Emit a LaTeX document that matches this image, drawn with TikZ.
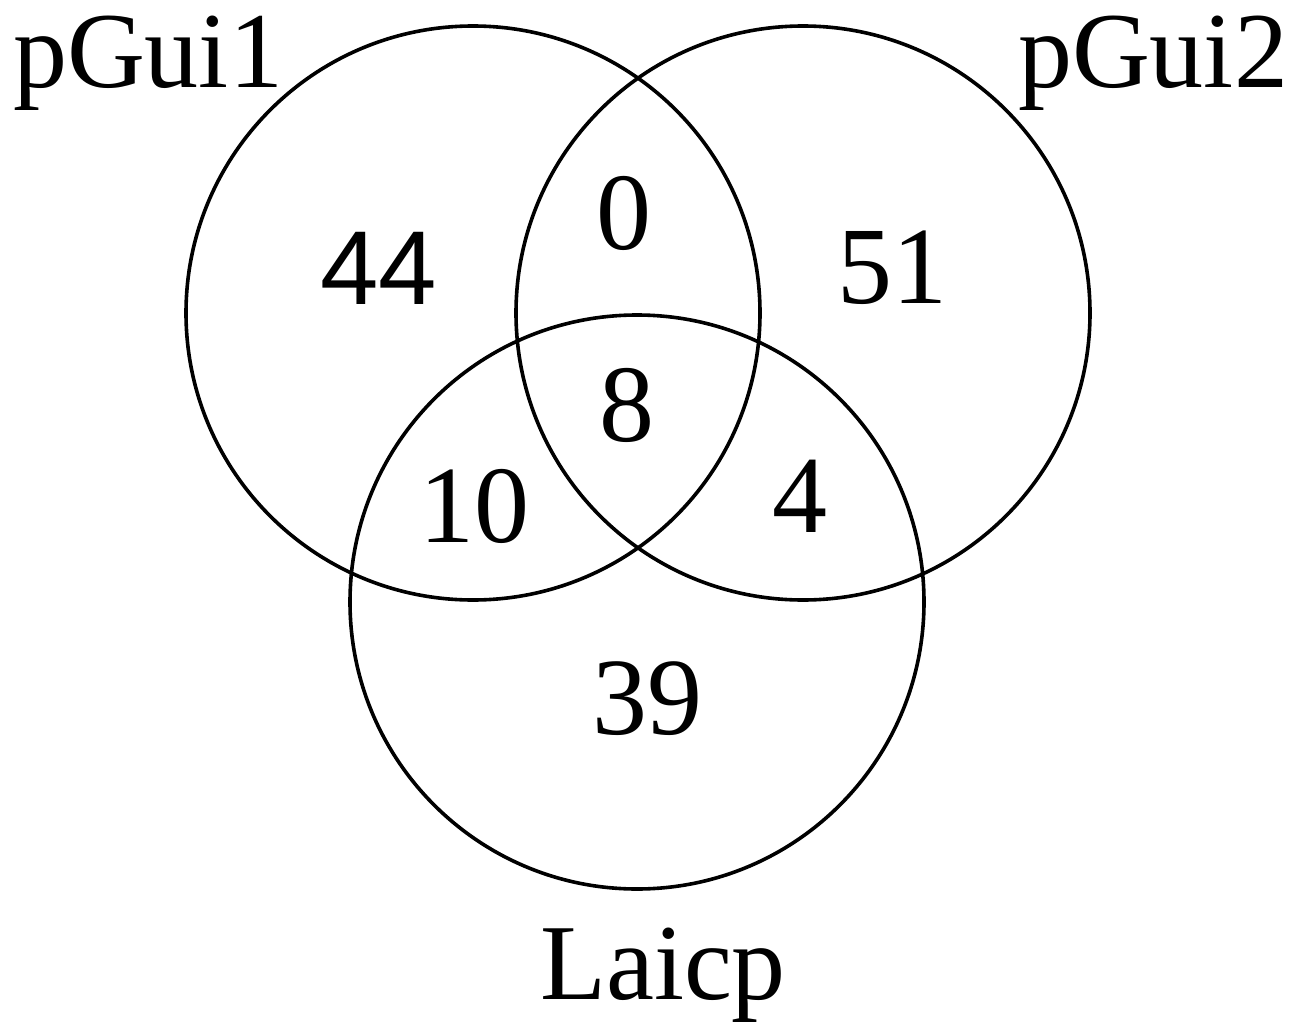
\documentclass[tikz,border=0pt]{standalone}
\usepackage{fontspec}
\setmainfont{Liberation Serif}
\newfontfamily\numsans{Liberation Sans}
\begin{document}
\begin{tikzpicture}[x=1pt,y=-1pt,
  setcircle/.style={circle,draw=black,line width=3.6pt,minimum size=574pt,inner sep=0pt},
  setlabel/.style={anchor=base,inner sep=0pt,font=\fontsize{108}{120}\selectfont},
  count/.style={anchor=base,inner sep=0pt,font=\fontsize{110}{120}\selectfont}]
  \useasboundingbox (0,0) rectangle (1293,1025);
  % the three sets
  \node[setcircle] (A) at (473,313) {};
  \node[setcircle] (B) at (803,313) {};
  \node[setcircle] (C) at (637,602) {};
  % set names
  \node[setlabel] (la) at (148,88) {pGui1};
  \node[setlabel] (lb) at (1153,88) {pGui2};
  \node[setlabel] (lc) at (663,999) {Laicp};
  % region counts
  \node[count,font=\numsans\fontsize{105}{120}\selectfont] (nA) at (379,304) {44};
  \node[count] (nAB) at (624,249) {0};
  \node[count] (nB) at (892,303) {51};
  \node[count] (nABC) at (627,441) {8};
  \node[count] (nAC) at (474,542) {10};
  \node[count] (nBC) at (800,532) {4};
  \node[count] (nC) at (647,734) {39};
\end{tikzpicture}
\end{document}
